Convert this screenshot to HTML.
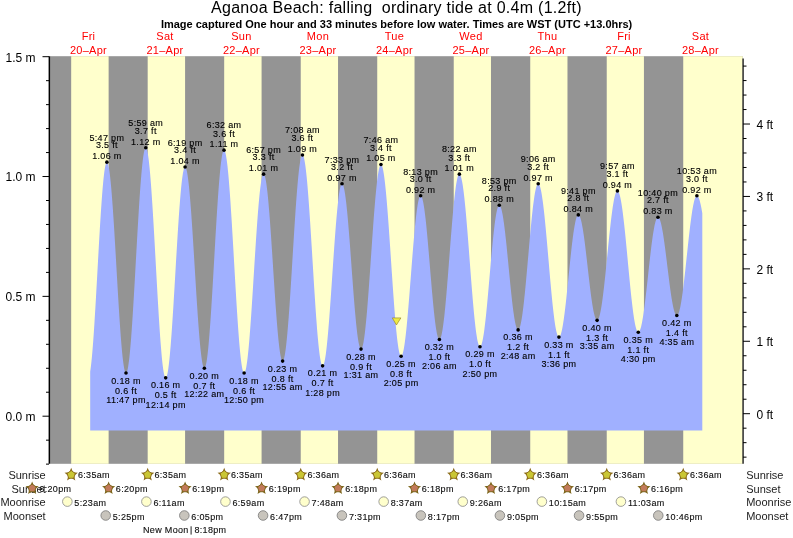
<!DOCTYPE html><html><head><meta charset="utf-8"><style>html,body{margin:0;padding:0;background:#fff;overflow:hidden;width:793px;height:538px;}svg{display:block;will-change:transform;}text{font-family:"Liberation Sans",sans-serif;}.b{stroke:#000;stroke-width:0.12px;}</style></head><body>
<svg width="793" height="538" viewBox="0 0 793 538">
<rect x="0" y="0" width="793" height="538" fill="#fff"/>
<rect x="50.2" y="56.2" width="692.5" height="407.6" fill="#949494"/>
<rect x="71.18" y="56.2" width="37.45" height="407.6" fill="#ffffcc"/>
<rect x="147.68" y="56.2" width="37.40" height="407.6" fill="#ffffcc"/>
<rect x="224.18" y="56.2" width="37.40" height="407.6" fill="#ffffcc"/>
<rect x="300.74" y="56.2" width="37.29" height="407.6" fill="#ffffcc"/>
<rect x="377.24" y="56.2" width="37.29" height="407.6" fill="#ffffcc"/>
<rect x="453.74" y="56.2" width="37.24" height="407.6" fill="#ffffcc"/>
<rect x="530.24" y="56.2" width="37.24" height="407.6" fill="#ffffcc"/>
<rect x="606.74" y="56.2" width="37.19" height="407.6" fill="#ffffcc"/>
<rect x="683.24" y="56.2" width="59.46" height="407.6" fill="#ffffcc"/>
<polygon points="90.20,430.5 90.20,371.44 90.64,368.49 91.07,365.01 91.51,361.02 91.95,356.54 92.39,351.60 92.82,346.22 93.26,340.43 93.70,334.26 94.13,327.75 94.57,320.93 95.01,313.84 95.45,306.51 95.88,298.98 96.32,291.30 96.76,283.51 97.20,275.64 97.63,267.75 98.07,259.86 98.51,252.03 98.94,244.30 99.38,236.70 99.82,229.28 100.26,222.08 100.69,215.14 101.13,208.49 101.57,202.18 102.00,196.22 102.44,190.66 102.88,185.53 103.32,180.85 103.75,176.65 104.19,172.94 104.63,169.76 105.07,167.12 105.50,165.03 105.94,163.50 106.38,162.54 106.81,162.16 107.25,162.34 107.69,163.07 108.13,164.33 108.56,166.13 109.00,168.46 109.44,171.29 109.87,174.62 110.31,178.43 110.75,182.70 111.19,187.40 111.62,192.52 112.06,198.03 112.50,203.90 112.94,210.09 113.37,216.58 113.81,223.34 114.25,230.32 114.68,237.49 115.12,244.82 115.56,252.27 116.00,259.80 116.43,267.36 116.87,274.93 117.31,282.46 117.74,289.91 118.18,297.25 118.62,304.44 119.06,311.43 119.49,318.20 119.93,324.71 120.37,330.93 120.80,336.81 121.24,342.34 121.68,347.49 122.12,352.22 122.55,356.52 122.99,360.36 123.43,363.72 123.87,366.59 124.30,368.94 124.74,370.77 125.18,372.08 125.61,372.84 126.05,373.06 126.49,372.73 126.93,371.87 127.36,370.46 127.80,368.52 128.24,366.07 128.67,363.10 129.11,359.63 129.55,355.69 129.99,351.29 130.42,346.44 130.86,341.19 131.30,335.54 131.74,329.53 132.17,323.18 132.61,316.54 133.05,309.62 133.48,302.46 133.92,295.10 134.36,287.58 134.80,279.92 135.23,272.17 135.67,264.36 136.11,256.53 136.54,248.72 136.98,240.97 137.42,233.31 137.86,225.78 138.29,218.42 138.73,211.27 139.17,204.35 139.61,197.70 140.04,191.35 140.48,185.34 140.92,179.69 141.35,174.43 141.79,169.58 142.23,165.17 142.67,161.23 143.10,157.76 143.54,154.78 143.98,152.32 144.41,150.38 144.85,148.97 145.29,148.10 145.73,147.77 146.16,147.99 146.60,148.75 147.04,150.05 147.48,151.89 147.91,154.26 148.35,157.14 148.79,160.53 149.22,164.40 149.66,168.74 150.10,173.52 150.54,178.73 150.97,184.34 151.41,190.32 151.85,196.65 152.28,203.29 152.72,210.21 153.16,217.39 153.60,224.78 154.03,232.35 154.47,240.06 154.91,247.88 155.34,255.78 155.78,263.71 156.22,271.63 156.66,279.51 157.09,287.31 157.53,295.00 157.97,302.53 158.41,309.87 158.84,316.99 159.28,323.86 159.72,330.43 160.15,336.68 160.59,342.58 161.03,348.10 161.47,353.22 161.90,357.90 162.34,362.14 162.78,365.90 163.21,369.17 163.65,371.94 164.09,374.19 164.53,375.91 164.96,377.09 165.40,377.73 165.84,377.82 166.28,377.39 166.71,376.42 167.15,374.93 167.59,372.93 168.02,370.43 168.46,367.43 168.90,363.95 169.34,360.02 169.77,355.65 170.21,350.86 170.65,345.67 171.08,340.12 171.52,334.23 171.96,328.03 172.40,321.55 172.83,314.82 173.27,307.88 173.71,300.77 174.15,293.51 174.58,286.14 175.02,278.71 175.46,271.24 175.89,263.78 176.33,256.36 176.77,249.03 177.21,241.81 177.64,234.74 178.08,227.86 178.52,221.21 178.95,214.81 179.39,208.70 179.83,202.92 180.27,197.48 180.70,192.41 181.14,187.75 181.58,183.51 182.01,179.72 182.45,176.39 182.89,173.54 183.33,171.19 183.76,169.35 184.20,168.02 184.64,167.22 185.08,166.94 185.51,167.19 185.95,167.94 186.39,169.20 186.82,170.96 187.26,173.21 187.70,175.94 188.14,179.13 188.57,182.77 189.01,186.84 189.45,191.32 189.88,196.19 190.32,201.42 190.76,206.98 191.20,212.85 191.63,219.01 192.07,225.40 192.51,232.01 192.95,238.80 193.38,245.74 193.82,252.79 194.26,259.91 194.69,267.07 195.13,274.24 195.57,281.37 196.01,288.43 196.44,295.39 196.88,302.20 197.32,308.84 197.75,315.27 198.19,321.46 198.63,327.38 199.07,332.99 199.50,338.27 199.94,343.19 200.38,347.73 200.82,351.86 201.25,355.57 201.69,358.83 202.13,361.63 202.56,363.95 203.00,365.78 203.44,367.11 203.88,367.94 204.31,368.26 204.75,368.06 205.19,367.33 205.62,366.08 206.06,364.30 206.50,362.01 206.94,359.21 207.37,355.93 207.81,352.18 208.25,347.97 208.69,343.33 209.12,338.28 209.56,332.84 210.00,327.05 210.43,320.92 210.87,314.49 211.31,307.79 211.75,300.86 212.18,293.72 212.62,286.41 213.06,278.97 213.49,271.43 213.93,263.84 214.37,256.22 214.81,248.62 215.24,241.06 215.68,233.60 216.12,226.26 216.55,219.08 216.99,212.10 217.43,205.35 217.87,198.86 218.30,192.67 218.74,186.80 219.18,181.28 219.62,176.15 220.05,171.42 220.49,167.11 220.93,163.26 221.36,159.88 221.80,156.98 222.24,154.58 222.68,152.69 223.11,151.32 223.55,150.48 223.99,150.17 224.42,150.38 224.86,151.12 225.30,152.37 225.74,154.14 226.17,156.40 226.61,159.16 227.05,162.40 227.49,166.10 227.92,170.25 228.36,174.82 228.80,179.81 229.23,185.17 229.67,190.89 230.11,196.94 230.55,203.30 230.98,209.93 231.42,216.80 231.86,223.87 232.29,231.13 232.73,238.53 233.17,246.03 233.61,253.61 234.04,261.23 234.48,268.84 234.92,276.43 235.36,283.94 235.79,291.35 236.23,298.63 236.67,305.72 237.10,312.61 237.54,319.27 237.98,325.65 238.42,331.74 238.85,337.49 239.29,342.89 239.73,347.91 240.16,352.53 240.60,356.72 241.04,360.47 241.48,363.76 241.91,366.57 242.35,368.88 242.79,370.70 243.22,372.00 243.66,372.79 244.10,373.06 244.54,372.82 244.97,372.09 245.41,370.87 245.85,369.17 246.29,366.99 246.72,364.35 247.16,361.26 247.60,357.73 248.03,353.79 248.47,349.45 248.91,344.73 249.35,339.67 249.78,334.27 250.22,328.57 250.66,322.60 251.09,316.38 251.53,309.96 251.97,303.35 252.41,296.60 252.84,289.73 253.28,282.78 253.72,275.78 254.16,268.78 254.59,261.80 255.03,254.88 255.47,248.05 255.90,241.34 256.34,234.80 256.78,228.45 257.22,222.32 257.65,216.45 258.09,210.86 258.53,205.58 258.96,200.64 259.40,196.07 259.84,191.87 260.28,188.08 260.71,184.72 261.15,181.80 261.59,179.33 262.03,177.33 262.46,175.81 262.90,174.77 263.34,174.22 263.77,174.17 264.21,174.60 264.65,175.52 265.09,176.92 265.52,178.79 265.96,181.13 266.40,183.91 266.83,187.14 267.27,190.78 267.71,194.82 268.15,199.24 268.58,204.02 269.02,209.13 269.46,214.54 269.90,220.23 270.33,226.17 270.77,232.33 271.21,238.66 271.64,245.15 272.08,251.76 272.52,258.45 272.96,265.18 273.39,271.93 273.83,278.66 274.27,285.33 274.70,291.90 275.14,298.35 275.58,304.64 276.02,310.74 276.45,316.61 276.89,322.22 277.33,327.55 277.76,332.57 278.20,337.25 278.64,341.57 279.08,345.50 279.51,349.03 279.95,352.13 280.39,354.79 280.83,356.99 281.26,358.73 281.70,359.99 282.14,360.78 282.57,361.07 283.01,360.88 283.45,360.19 283.89,359.01 284.32,357.35 284.76,355.21 285.20,352.60 285.63,349.54 286.07,346.04 286.51,342.12 286.95,337.79 287.38,333.08 287.82,328.01 288.26,322.60 288.70,316.88 289.13,310.88 289.57,304.63 290.01,298.15 290.44,291.48 290.88,284.64 291.32,277.68 291.76,270.63 292.19,263.52 292.63,256.38 293.07,249.24 293.50,242.15 293.94,235.14 294.38,228.23 294.82,221.47 295.25,214.88 295.69,208.50 296.13,202.36 296.57,196.49 297.00,190.91 297.44,185.66 297.88,180.75 298.31,176.21 298.75,172.06 299.19,168.33 299.63,165.03 300.06,162.18 300.50,159.78 300.94,157.86 301.37,156.42 301.81,155.47 302.25,155.01 302.69,155.04 303.12,155.56 303.56,156.57 304.00,158.05 304.43,160.01 304.87,162.44 305.31,165.32 305.75,168.64 306.18,172.38 306.62,176.53 307.06,181.07 307.50,185.98 307.93,191.23 308.37,196.80 308.81,202.66 309.24,208.80 309.68,215.17 310.12,221.75 310.56,228.51 310.99,235.41 311.43,242.44 311.87,249.54 312.30,256.70 312.74,263.87 313.18,271.03 313.62,278.14 314.05,285.17 314.49,292.08 314.93,298.84 315.37,305.43 315.80,311.81 316.24,317.95 316.68,323.83 317.11,329.41 317.55,334.67 317.99,339.59 318.43,344.14 318.86,348.31 319.30,352.07 319.74,355.40 320.17,358.30 320.61,360.74 321.05,362.71 321.49,364.22 321.92,365.24 322.36,365.78 322.80,365.83 323.24,365.42 323.67,364.56 324.11,363.25 324.55,361.49 324.98,359.30 325.42,356.68 325.86,353.65 326.30,350.23 326.73,346.43 327.17,342.27 327.61,337.77 328.04,332.96 328.48,327.85 328.92,322.48 329.36,316.87 329.79,311.05 330.23,305.04 330.67,298.89 331.11,292.61 331.54,286.24 331.98,279.82 332.42,273.37 332.85,266.93 333.29,260.53 333.73,254.20 334.17,247.97 334.60,241.88 335.04,235.95 335.48,230.22 335.91,224.71 336.35,219.45 336.79,214.47 337.23,209.79 337.66,205.44 338.10,201.44 338.54,197.80 338.97,194.55 339.41,191.70 339.85,189.27 340.29,187.27 340.72,185.71 341.16,184.59 341.60,183.93 342.04,183.72 342.47,183.96 342.91,184.62 343.35,185.71 343.78,187.22 344.22,189.15 344.66,191.48 345.10,194.19 345.53,197.29 345.97,200.74 346.41,204.54 346.84,208.66 347.28,213.08 347.72,217.78 348.16,222.73 348.59,227.91 349.03,233.30 349.47,238.85 349.91,244.55 350.34,250.36 350.78,256.25 351.22,262.20 351.65,268.17 352.09,274.13 352.53,280.05 352.97,285.90 353.40,291.65 353.84,297.26 354.28,302.72 354.71,307.98 355.15,313.03 355.59,317.84 356.03,322.38 356.46,326.62 356.90,330.55 357.34,334.15 357.78,337.40 358.21,340.27 358.65,342.76 359.09,344.85 359.52,346.53 359.96,347.80 360.40,348.64 360.84,349.05 361.27,349.03 361.71,348.57 362.15,347.68 362.58,346.35 363.02,344.60 363.46,342.43 363.90,339.85 364.33,336.88 364.77,333.53 365.21,329.82 365.64,325.76 366.08,321.37 366.52,316.67 366.96,311.69 367.39,306.45 367.83,300.98 368.27,295.29 368.71,289.42 369.14,283.39 369.58,277.24 370.02,271.00 370.45,264.68 370.89,258.33 371.33,251.97 371.77,245.63 372.20,239.35 372.64,233.15 373.08,227.06 373.51,221.11 373.95,215.34 374.39,209.76 374.83,204.40 375.26,199.29 375.70,194.46 376.14,189.92 376.58,185.70 377.01,181.82 377.45,178.30 377.89,175.15 378.32,172.38 378.76,170.02 379.20,168.07 379.64,166.54 380.07,165.44 380.51,164.77 380.95,164.55 381.38,164.76 381.82,165.42 382.26,166.52 382.70,168.06 383.13,170.03 383.57,172.41 384.01,175.21 384.45,178.40 384.88,181.98 385.32,185.92 385.76,190.21 386.19,194.82 386.63,199.74 387.07,204.94 387.51,210.40 387.94,216.09 388.38,221.99 388.82,228.06 389.25,234.29 389.69,240.64 390.13,247.08 390.57,253.58 391.00,260.12 391.44,266.65 391.88,273.16 392.32,279.60 392.75,285.96 393.19,292.20 393.63,298.29 394.06,304.21 394.50,309.92 394.94,315.40 395.38,320.63 395.81,325.57 396.25,330.21 396.69,334.53 397.12,338.50 397.56,342.11 398.00,345.34 398.44,348.18 398.87,350.60 399.31,352.61 399.75,354.19 400.18,355.33 400.62,356.03 401.06,356.28 401.50,356.11 401.93,355.55 402.37,354.59 402.81,353.24 403.25,351.52 403.68,349.42 404.12,346.96 404.56,344.14 404.99,341.00 405.43,337.53 405.87,333.76 406.31,329.70 406.74,325.38 407.18,320.81 407.62,316.02 408.05,311.04 408.49,305.88 408.93,300.58 409.37,295.15 409.80,289.63 410.24,284.04 410.68,278.41 411.12,272.77 411.55,267.15 411.99,261.57 412.43,256.06 412.86,250.65 413.30,245.36 413.74,240.23 414.18,235.27 414.61,230.51 415.05,225.98 415.49,221.69 415.92,217.68 416.36,213.95 416.80,210.52 417.24,207.42 417.67,204.66 418.11,202.25 418.55,200.20 418.99,198.53 419.42,197.24 419.86,196.34 420.30,195.83 420.73,195.71 421.17,195.99 421.61,196.65 422.05,197.69 422.48,199.10 422.92,200.88 423.36,203.02 423.79,205.51 424.23,208.33 424.67,211.46 425.11,214.90 425.54,218.62 425.98,222.60 426.42,226.83 426.85,231.27 427.29,235.91 427.73,240.72 428.17,245.67 428.60,250.74 429.04,255.90 429.48,261.12 429.92,266.38 430.35,271.64 430.79,276.89 431.23,282.08 431.66,287.19 432.10,292.20 432.54,297.08 432.98,301.80 433.41,306.34 433.85,310.67 434.29,314.77 434.72,318.61 435.16,322.18 435.60,325.46 436.04,328.43 436.47,331.07 436.91,333.38 437.35,335.32 437.79,336.91 438.22,338.13 438.66,338.96 439.10,339.42 439.53,339.49 439.97,339.16 440.41,338.45 440.85,337.36 441.28,335.88 441.72,334.03 442.16,331.82 442.59,329.25 443.03,326.33 443.47,323.09 443.91,319.54 444.34,315.69 444.78,311.56 445.22,307.17 445.66,302.55 446.09,297.71 446.53,292.67 446.97,287.47 447.40,282.12 447.84,276.65 448.28,271.09 448.72,265.46 449.15,259.79 449.59,254.10 450.03,248.43 450.46,242.80 450.90,237.23 451.34,231.76 451.78,226.41 452.21,221.19 452.65,216.15 453.09,211.30 453.53,206.67 453.96,202.27 454.40,198.13 454.84,194.26 455.27,190.70 455.71,187.44 456.15,184.51 456.59,181.93 457.02,179.70 457.46,177.83 457.90,176.34 458.33,175.22 458.77,174.50 459.21,174.16 459.65,174.21 460.08,174.64 460.52,175.46 460.96,176.65 461.39,178.21 461.83,180.14 462.27,182.43 462.71,185.06 463.14,188.02 463.58,191.31 464.02,194.91 464.46,198.79 464.89,202.95 465.33,207.36 465.77,212.01 466.20,216.87 466.64,221.93 467.08,227.16 467.52,232.53 467.95,238.03 468.39,243.63 468.83,249.30 469.26,255.02 469.70,260.77 470.14,266.51 470.58,272.23 471.01,277.90 471.45,283.48 471.89,288.97 472.33,294.33 472.76,299.53 473.20,304.57 473.64,309.41 474.07,314.03 474.51,318.41 474.95,322.53 475.39,326.38 475.82,329.94 476.26,333.19 476.70,336.11 477.13,338.70 477.57,340.94 478.01,342.83 478.45,344.35 478.88,345.49 479.32,346.26 479.76,346.65 480.20,346.65 480.63,346.30 481.07,345.59 481.51,344.52 481.94,343.11 482.38,341.36 482.82,339.28 483.26,336.87 483.69,334.16 484.13,331.15 484.57,327.86 485.00,324.31 485.44,320.52 485.88,316.50 486.32,312.27 486.75,307.86 487.19,303.29 487.63,298.58 488.06,293.75 488.50,288.84 488.94,283.86 489.38,278.83 489.81,273.80 490.25,268.78 490.69,263.79 491.13,258.86 491.56,254.03 492.00,249.30 492.44,244.71 492.87,240.27 493.31,236.02 493.75,231.97 494.19,228.15 494.62,224.56 495.06,221.24 495.50,218.20 495.93,215.45 496.37,213.00 496.81,210.88 497.25,209.08 497.68,207.63 498.12,206.52 498.56,205.76 499.00,205.36 499.43,205.31 499.87,205.61 500.31,206.23 500.74,207.17 501.18,208.44 501.62,210.02 502.06,211.90 502.49,214.08 502.93,216.55 503.37,219.28 503.80,222.27 504.24,225.50 504.68,228.96 505.12,232.62 505.55,236.46 505.99,240.47 506.43,244.62 506.87,248.90 507.30,253.28 507.74,257.73 508.18,262.23 508.61,266.76 509.05,271.30 509.49,275.81 509.93,280.29 510.36,284.69 510.80,289.01 511.24,293.21 511.67,297.28 512.11,301.18 512.55,304.92 512.99,308.45 513.42,311.76 513.86,314.85 514.30,317.68 514.74,320.24 515.17,322.53 515.61,324.53 516.05,326.22 516.48,327.60 516.92,328.67 517.36,329.41 517.80,329.82 518.23,329.91 518.67,329.65 519.11,329.06 519.54,328.12 519.98,326.86 520.42,325.26 520.86,323.35 521.29,321.12 521.73,318.60 522.17,315.78 522.60,312.69 523.04,309.34 523.48,305.74 523.92,301.91 524.35,297.87 524.79,293.64 525.23,289.24 525.67,284.69 526.10,280.00 526.54,275.21 526.98,270.33 527.41,265.39 527.85,260.41 528.29,255.41 528.73,250.42 529.16,245.46 529.60,240.55 530.04,235.72 530.47,230.98 530.91,226.37 531.35,221.90 531.79,217.59 532.22,213.47 532.66,209.55 533.10,205.85 533.54,202.38 533.97,199.18 534.41,196.24 534.85,193.58 535.28,191.23 535.72,189.17 536.16,187.44 536.60,186.03 537.03,184.95 537.47,184.20 537.91,183.80 538.34,183.74 538.78,184.01 539.22,184.62 539.66,185.57 540.09,186.84 540.53,188.43 540.97,190.35 541.41,192.57 541.84,195.08 542.28,197.89 542.72,200.97 543.15,204.31 543.59,207.90 544.03,211.72 544.47,215.75 544.90,219.98 545.34,224.38 545.78,228.95 546.21,233.65 546.65,238.47 547.09,243.38 547.53,248.38 547.96,253.42 548.40,258.50 548.84,263.58 549.27,268.65 549.71,273.68 550.15,278.66 550.59,283.55 551.02,288.34 551.46,293.01 551.90,297.54 552.34,301.91 552.77,306.09 553.21,310.07 553.65,313.83 554.08,317.36 554.52,320.64 554.96,323.65 555.40,326.39 555.83,328.83 556.27,330.98 556.71,332.81 557.14,334.33 557.58,335.52 558.02,336.39 558.46,336.92 558.89,337.11 559.33,336.98 559.77,336.54 560.21,335.80 560.64,334.76 561.08,333.42 561.52,331.80 561.95,329.90 562.39,327.72 562.83,325.29 563.27,322.61 563.70,319.69 564.14,316.56 564.58,313.22 565.01,309.70 565.45,306.01 565.89,302.16 566.33,298.19 566.76,294.10 567.20,289.93 567.64,285.68 568.08,281.38 568.51,277.06 568.95,272.73 569.39,268.42 569.82,264.15 570.26,259.94 570.70,255.80 571.14,251.77 571.57,247.86 572.01,244.09 572.45,240.48 572.88,237.05 573.32,233.81 573.76,230.79 574.20,227.99 574.63,225.43 575.07,223.13 575.51,221.09 575.95,219.33 576.38,217.85 576.82,216.66 577.26,215.77 577.69,215.19 578.13,214.90 578.57,214.92 579.01,215.23 579.44,215.81 579.88,216.67 580.32,217.80 580.75,219.19 581.19,220.85 581.63,222.75 582.07,224.89 582.50,227.26 582.94,229.85 583.38,232.63 583.81,235.61 584.25,238.75 584.69,242.05 585.13,245.48 585.56,249.03 586.00,252.68 586.44,256.41 586.88,260.20 587.31,264.03 587.75,267.88 588.19,271.73 588.62,275.55 589.06,279.33 589.50,283.05 589.94,286.69 590.37,290.23 590.81,293.64 591.25,296.92 591.68,300.04 592.12,302.99 592.56,305.74 593.00,308.30 593.43,310.64 593.87,312.75 594.31,314.61 594.75,316.23 595.18,317.59 595.62,318.68 596.06,319.50 596.49,320.04 596.93,320.31 597.37,320.28 597.81,319.97 598.24,319.36 598.68,318.46 599.12,317.27 599.55,315.80 599.99,314.05 600.43,312.03 600.87,309.76 601.30,307.24 601.74,304.48 602.18,301.50 602.62,298.31 603.05,294.92 603.49,291.36 603.93,287.63 604.36,283.75 604.80,279.74 605.24,275.63 605.68,271.42 606.11,267.14 606.55,262.81 606.99,258.44 607.42,254.06 607.86,249.69 608.30,245.34 608.74,241.05 609.17,236.82 609.61,232.67 610.05,228.63 610.49,224.72 610.92,220.94 611.36,217.33 611.80,213.89 612.23,210.64 612.67,207.59 613.11,204.77 613.55,202.18 613.98,199.84 614.42,197.74 614.86,195.92 615.29,194.37 615.73,193.10 616.17,192.11 616.61,191.42 617.04,191.02 617.48,190.91 617.92,191.11 618.35,191.62 618.79,192.42 619.23,193.53 619.67,194.93 620.10,196.62 620.54,198.59 620.98,200.83 621.42,203.33 621.85,206.09 622.29,209.09 622.73,212.31 623.16,215.75 623.60,219.39 624.04,223.21 624.48,227.19 624.91,231.33 625.35,235.60 625.79,239.97 626.22,244.45 626.66,248.99 627.10,253.59 627.54,258.23 627.97,262.88 628.41,267.52 628.85,272.14 629.29,276.71 629.72,281.22 630.16,285.65 630.60,289.97 631.03,294.16 631.47,298.22 631.91,302.12 632.35,305.84 632.78,309.37 633.22,312.69 633.66,315.80 634.09,318.66 634.53,321.29 634.97,323.65 635.41,325.75 635.84,327.56 636.28,329.10 636.72,330.34 637.16,331.28 637.59,331.92 638.03,332.26 638.47,332.29 638.90,332.04 639.34,331.51 639.78,330.70 640.22,329.62 640.65,328.28 641.09,326.67 641.53,324.80 641.96,322.70 642.40,320.36 642.84,317.79 643.28,315.02 643.71,312.05 644.15,308.90 644.59,305.59 645.02,302.12 645.46,298.52 645.90,294.80 646.34,290.99 646.77,287.09 647.21,283.14 647.65,279.15 648.09,275.13 648.52,271.11 648.96,267.11 649.40,263.15 649.83,259.25 650.27,255.42 650.71,251.68 651.15,248.06 651.58,244.57 652.02,241.23 652.46,238.05 652.89,235.05 653.33,232.24 653.77,229.64 654.21,227.27 654.64,225.12 655.08,223.22 655.52,221.56 655.96,220.17 656.39,219.05 656.83,218.19 657.27,217.62 657.70,217.32 658.14,217.30 658.58,217.54 659.02,218.05 659.45,218.81 659.89,219.82 660.33,221.08 660.76,222.58 661.20,224.31 661.64,226.26 662.08,228.43 662.51,230.80 662.95,233.36 663.39,236.09 663.83,238.98 664.26,242.02 664.70,245.19 665.14,248.47 665.57,251.85 666.01,255.30 666.45,258.81 666.89,262.37 667.32,265.94 667.76,269.52 668.20,273.08 668.63,276.60 669.07,280.07 669.51,283.47 669.95,286.78 670.38,289.98 670.82,293.05 671.26,295.98 671.69,298.76 672.13,301.37 672.57,303.78 673.01,306.01 673.44,308.02 673.88,309.81 674.32,311.37 674.76,312.69 675.19,313.77 675.63,314.59 676.07,315.16 676.50,315.48 676.94,315.53 677.38,315.30 677.82,314.80 678.25,314.02 678.69,312.96 679.13,311.64 679.56,310.06 680.00,308.22 680.44,306.13 680.88,303.81 681.31,301.27 681.75,298.51 682.19,295.55 682.63,292.40 683.06,289.08 683.50,285.61 683.94,281.99 684.37,278.25 684.81,274.41 685.25,270.48 685.69,266.47 686.12,262.42 686.56,258.34 687.00,254.24 687.43,250.15 687.87,246.08 688.31,242.06 688.75,238.10 689.18,234.23 689.62,230.45 690.06,226.80 690.50,223.27 690.93,219.90 691.37,216.70 691.81,213.68 692.24,210.85 692.68,208.23 693.12,205.84 693.56,203.68 693.99,201.76 694.43,200.09 694.87,198.68 695.30,197.54 695.74,196.67 696.18,196.07 696.62,195.76 697.05,195.72 697.49,195.93 697.93,196.38 698.37,197.07 698.80,198.00 699.24,199.16 699.68,200.54 700.11,202.15 700.55,203.97 700.99,206.00 701.43,208.23 701.86,210.66 702.30,213.26 702.30,430.5" fill="#a0b0ff"/>
<line x1="49.4" y1="56.2" x2="49.4" y2="463.8" stroke="#000" stroke-width="1.6"/>
<line x1="743.1" y1="58.5" x2="743.1" y2="463.8" stroke="#222" stroke-width="1.4"/>
<line x1="46" y1="464.13" x2="49" y2="464.13" stroke="#000" stroke-width="1"/>
<line x1="46" y1="440.17" x2="49" y2="440.17" stroke="#000" stroke-width="1"/>
<line x1="42.5" y1="416.20" x2="49" y2="416.20" stroke="#000" stroke-width="1"/>
<line x1="46" y1="392.23" x2="49" y2="392.23" stroke="#000" stroke-width="1"/>
<line x1="46" y1="368.27" x2="49" y2="368.27" stroke="#000" stroke-width="1"/>
<line x1="46" y1="344.30" x2="49" y2="344.30" stroke="#000" stroke-width="1"/>
<line x1="46" y1="320.33" x2="49" y2="320.33" stroke="#000" stroke-width="1"/>
<line x1="42.5" y1="296.37" x2="49" y2="296.37" stroke="#000" stroke-width="1"/>
<line x1="46" y1="272.40" x2="49" y2="272.40" stroke="#000" stroke-width="1"/>
<line x1="46" y1="248.43" x2="49" y2="248.43" stroke="#000" stroke-width="1"/>
<line x1="46" y1="224.46" x2="49" y2="224.46" stroke="#000" stroke-width="1"/>
<line x1="46" y1="200.50" x2="49" y2="200.50" stroke="#000" stroke-width="1"/>
<line x1="42.5" y1="176.53" x2="49" y2="176.53" stroke="#000" stroke-width="1"/>
<line x1="46" y1="152.56" x2="49" y2="152.56" stroke="#000" stroke-width="1"/>
<line x1="46" y1="128.60" x2="49" y2="128.60" stroke="#000" stroke-width="1"/>
<line x1="46" y1="104.63" x2="49" y2="104.63" stroke="#000" stroke-width="1"/>
<line x1="46" y1="80.66" x2="49" y2="80.66" stroke="#000" stroke-width="1"/>
<line x1="42.5" y1="56.69" x2="49" y2="56.69" stroke="#000" stroke-width="1"/>
<text x="35.5" y="61.59" font-size="12" text-anchor="end" fill="#000">1.5 m</text>
<text x="35.5" y="181.03" font-size="12" text-anchor="end" fill="#000">1.0 m</text>
<text x="35.5" y="300.87" font-size="12" text-anchor="end" fill="#000">0.5 m</text>
<text x="35.5" y="420.70" font-size="12" text-anchor="end" fill="#000">0.0 m</text>
<line x1="743" y1="457.15" x2="746.5" y2="457.15" stroke="#000" stroke-width="1"/>
<line x1="743" y1="442.67" x2="746.5" y2="442.67" stroke="#000" stroke-width="1"/>
<line x1="743" y1="428.18" x2="746.5" y2="428.18" stroke="#000" stroke-width="1"/>
<line x1="743" y1="413.70" x2="750" y2="413.70" stroke="#000" stroke-width="1"/>
<line x1="743" y1="399.22" x2="746.5" y2="399.22" stroke="#000" stroke-width="1"/>
<line x1="743" y1="384.73" x2="746.5" y2="384.73" stroke="#000" stroke-width="1"/>
<line x1="743" y1="370.25" x2="746.5" y2="370.25" stroke="#000" stroke-width="1"/>
<line x1="743" y1="355.76" x2="746.5" y2="355.76" stroke="#000" stroke-width="1"/>
<line x1="743" y1="341.28" x2="750" y2="341.28" stroke="#000" stroke-width="1"/>
<line x1="743" y1="326.80" x2="746.5" y2="326.80" stroke="#000" stroke-width="1"/>
<line x1="743" y1="312.31" x2="746.5" y2="312.31" stroke="#000" stroke-width="1"/>
<line x1="743" y1="297.83" x2="746.5" y2="297.83" stroke="#000" stroke-width="1"/>
<line x1="743" y1="283.34" x2="746.5" y2="283.34" stroke="#000" stroke-width="1"/>
<line x1="743" y1="268.86" x2="750" y2="268.86" stroke="#000" stroke-width="1"/>
<line x1="743" y1="254.38" x2="746.5" y2="254.38" stroke="#000" stroke-width="1"/>
<line x1="743" y1="239.89" x2="746.5" y2="239.89" stroke="#000" stroke-width="1"/>
<line x1="743" y1="225.41" x2="746.5" y2="225.41" stroke="#000" stroke-width="1"/>
<line x1="743" y1="210.92" x2="746.5" y2="210.92" stroke="#000" stroke-width="1"/>
<line x1="743" y1="196.44" x2="750" y2="196.44" stroke="#000" stroke-width="1"/>
<line x1="743" y1="181.96" x2="746.5" y2="181.96" stroke="#000" stroke-width="1"/>
<line x1="743" y1="167.47" x2="746.5" y2="167.47" stroke="#000" stroke-width="1"/>
<line x1="743" y1="152.99" x2="746.5" y2="152.99" stroke="#000" stroke-width="1"/>
<line x1="743" y1="138.50" x2="746.5" y2="138.50" stroke="#000" stroke-width="1"/>
<line x1="743" y1="124.02" x2="750" y2="124.02" stroke="#000" stroke-width="1"/>
<line x1="743" y1="109.54" x2="746.5" y2="109.54" stroke="#000" stroke-width="1"/>
<line x1="743" y1="95.05" x2="746.5" y2="95.05" stroke="#000" stroke-width="1"/>
<line x1="743" y1="80.57" x2="746.5" y2="80.57" stroke="#000" stroke-width="1"/>
<line x1="743" y1="66.08" x2="746.5" y2="66.08" stroke="#000" stroke-width="1"/>
<text x="756.5" y="418.70" font-size="12" fill="#000">0 ft</text>
<text x="756.5" y="346.28" font-size="12" fill="#000">1 ft</text>
<text x="756.5" y="273.86" font-size="12" fill="#000">2 ft</text>
<text x="756.5" y="201.44" font-size="12" fill="#000">3 ft</text>
<text x="756.5" y="129.02" font-size="12" fill="#000">4 ft</text>
<text x="396.4" y="12.9" font-size="16" letter-spacing="0.27" text-anchor="middle" fill="#000">Aganoa Beach: falling&#160; ordinary tide at 0.4m (1.2ft)</text>
<text x="396.6" y="28.0" font-size="11" font-weight="bold" text-anchor="middle" fill="#000">Image captured One hour and 33 minutes before low water. Times are WST (UTC +13.0hrs)</text>
<text x="88.45" y="39.5" font-size="11" letter-spacing="0.25" text-anchor="middle" fill="#f00">Fri</text>
<text x="88.45" y="53.5" font-size="11" letter-spacing="0.25" text-anchor="middle" fill="#f00">20&#8211;Apr</text>
<text x="164.95" y="39.5" font-size="11" letter-spacing="0.25" text-anchor="middle" fill="#f00">Sat</text>
<text x="164.95" y="53.5" font-size="11" letter-spacing="0.25" text-anchor="middle" fill="#f00">21&#8211;Apr</text>
<text x="241.45" y="39.5" font-size="11" letter-spacing="0.25" text-anchor="middle" fill="#f00">Sun</text>
<text x="241.45" y="53.5" font-size="11" letter-spacing="0.25" text-anchor="middle" fill="#f00">22&#8211;Apr</text>
<text x="317.95" y="39.5" font-size="11" letter-spacing="0.25" text-anchor="middle" fill="#f00">Mon</text>
<text x="317.95" y="53.5" font-size="11" letter-spacing="0.25" text-anchor="middle" fill="#f00">23&#8211;Apr</text>
<text x="394.45" y="39.5" font-size="11" letter-spacing="0.25" text-anchor="middle" fill="#f00">Tue</text>
<text x="394.45" y="53.5" font-size="11" letter-spacing="0.25" text-anchor="middle" fill="#f00">24&#8211;Apr</text>
<text x="470.95" y="39.5" font-size="11" letter-spacing="0.25" text-anchor="middle" fill="#f00">Wed</text>
<text x="470.95" y="53.5" font-size="11" letter-spacing="0.25" text-anchor="middle" fill="#f00">25&#8211;Apr</text>
<text x="547.45" y="39.5" font-size="11" letter-spacing="0.25" text-anchor="middle" fill="#f00">Thu</text>
<text x="547.45" y="53.5" font-size="11" letter-spacing="0.25" text-anchor="middle" fill="#f00">26&#8211;Apr</text>
<text x="623.95" y="39.5" font-size="11" letter-spacing="0.25" text-anchor="middle" fill="#f00">Fri</text>
<text x="623.95" y="53.5" font-size="11" letter-spacing="0.25" text-anchor="middle" fill="#f00">27&#8211;Apr</text>
<text x="700.45" y="39.5" font-size="11" letter-spacing="0.25" text-anchor="middle" fill="#f00">Sat</text>
<text x="700.45" y="53.5" font-size="11" letter-spacing="0.25" text-anchor="middle" fill="#f00">28&#8211;Apr</text>
<circle cx="106.88" cy="162.15" r="1.8" fill="#000"/>
<text x="106.88" y="141.15" font-size="9" letter-spacing="0.33" text-anchor="middle" fill="#000" class="b">5:47 pm</text>
<text x="106.88" y="148.15" font-size="9" letter-spacing="0.33" text-anchor="middle" fill="#000" class="b">3.5 ft</text>
<text x="106.88" y="158.95" font-size="9" letter-spacing="0.33" text-anchor="middle" fill="#000" class="b">1.06 m</text>
<circle cx="126.01" cy="373.06" r="1.8" fill="#000"/>
<text x="126.01" y="383.56" font-size="9" letter-spacing="0.33" text-anchor="middle" fill="#000" class="b">0.18 m</text>
<text x="126.01" y="393.56" font-size="9" letter-spacing="0.33" text-anchor="middle" fill="#000" class="b">0.6 ft</text>
<text x="126.01" y="402.96" font-size="9" letter-spacing="0.33" text-anchor="middle" fill="#000" class="b">11:47 pm</text>
<circle cx="145.77" cy="147.77" r="1.8" fill="#000"/>
<text x="145.77" y="125.77" font-size="9" letter-spacing="0.33" text-anchor="middle" fill="#000" class="b">5:59 am</text>
<text x="145.77" y="134.27" font-size="9" letter-spacing="0.33" text-anchor="middle" fill="#000" class="b">3.7 ft</text>
<text x="145.77" y="144.57" font-size="9" letter-spacing="0.33" text-anchor="middle" fill="#000" class="b">1.12 m</text>
<circle cx="165.69" cy="377.85" r="1.8" fill="#000"/>
<text x="165.69" y="388.35" font-size="9" letter-spacing="0.33" text-anchor="middle" fill="#000" class="b">0.16 m</text>
<text x="165.69" y="398.35" font-size="9" letter-spacing="0.33" text-anchor="middle" fill="#000" class="b">0.5 ft</text>
<text x="165.69" y="407.75" font-size="9" letter-spacing="0.33" text-anchor="middle" fill="#000" class="b">12:14 pm</text>
<circle cx="185.08" cy="166.94" r="1.8" fill="#000"/>
<text x="185.08" y="145.94" font-size="9" letter-spacing="0.33" text-anchor="middle" fill="#000" class="b">6:19 pm</text>
<text x="185.08" y="152.94" font-size="9" letter-spacing="0.33" text-anchor="middle" fill="#000" class="b">3.4 ft</text>
<text x="185.08" y="163.74" font-size="9" letter-spacing="0.33" text-anchor="middle" fill="#000" class="b">1.04 m</text>
<circle cx="204.37" cy="368.27" r="1.8" fill="#000"/>
<text x="204.37" y="378.77" font-size="9" letter-spacing="0.33" text-anchor="middle" fill="#000" class="b">0.20 m</text>
<text x="204.37" y="388.77" font-size="9" letter-spacing="0.33" text-anchor="middle" fill="#000" class="b">0.7 ft</text>
<text x="204.37" y="397.37" font-size="9" letter-spacing="0.33" text-anchor="middle" fill="#000" class="b">12:22 am</text>
<circle cx="224.02" cy="150.17" r="1.8" fill="#000"/>
<text x="224.02" y="128.17" font-size="9" letter-spacing="0.33" text-anchor="middle" fill="#000" class="b">6:32 am</text>
<text x="224.02" y="136.67" font-size="9" letter-spacing="0.33" text-anchor="middle" fill="#000" class="b">3.6 ft</text>
<text x="224.02" y="146.97" font-size="9" letter-spacing="0.33" text-anchor="middle" fill="#000" class="b">1.11 m</text>
<circle cx="244.11" cy="373.06" r="1.8" fill="#000"/>
<text x="244.11" y="383.56" font-size="9" letter-spacing="0.33" text-anchor="middle" fill="#000" class="b">0.18 m</text>
<text x="244.11" y="393.56" font-size="9" letter-spacing="0.33" text-anchor="middle" fill="#000" class="b">0.6 ft</text>
<text x="244.11" y="402.96" font-size="9" letter-spacing="0.33" text-anchor="middle" fill="#000" class="b">12:50 pm</text>
<circle cx="263.60" cy="174.13" r="1.8" fill="#000"/>
<text x="263.60" y="153.13" font-size="9" letter-spacing="0.33" text-anchor="middle" fill="#000" class="b">6:57 pm</text>
<text x="263.60" y="160.13" font-size="9" letter-spacing="0.33" text-anchor="middle" fill="#000" class="b">3.3 ft</text>
<text x="263.60" y="170.93" font-size="9" letter-spacing="0.33" text-anchor="middle" fill="#000" class="b">1.01 m</text>
<circle cx="282.62" cy="361.08" r="1.8" fill="#000"/>
<text x="282.62" y="371.58" font-size="9" letter-spacing="0.33" text-anchor="middle" fill="#000" class="b">0.23 m</text>
<text x="282.62" y="381.58" font-size="9" letter-spacing="0.33" text-anchor="middle" fill="#000" class="b">0.8 ft</text>
<text x="282.62" y="390.18" font-size="9" letter-spacing="0.33" text-anchor="middle" fill="#000" class="b">12:55 am</text>
<circle cx="302.44" cy="154.96" r="1.8" fill="#000"/>
<text x="302.44" y="132.96" font-size="9" letter-spacing="0.33" text-anchor="middle" fill="#000" class="b">7:08 am</text>
<text x="302.44" y="141.46" font-size="9" letter-spacing="0.33" text-anchor="middle" fill="#000" class="b">3.6 ft</text>
<text x="302.44" y="151.76" font-size="9" letter-spacing="0.33" text-anchor="middle" fill="#000" class="b">1.09 m</text>
<circle cx="322.62" cy="365.87" r="1.8" fill="#000"/>
<text x="322.62" y="376.37" font-size="9" letter-spacing="0.33" text-anchor="middle" fill="#000" class="b">0.21 m</text>
<text x="322.62" y="386.37" font-size="9" letter-spacing="0.33" text-anchor="middle" fill="#000" class="b">0.7 ft</text>
<text x="322.62" y="395.77" font-size="9" letter-spacing="0.33" text-anchor="middle" fill="#000" class="b">1:28 pm</text>
<circle cx="342.02" cy="183.72" r="1.8" fill="#000"/>
<text x="342.02" y="162.72" font-size="9" letter-spacing="0.33" text-anchor="middle" fill="#000" class="b">7:33 pm</text>
<text x="342.02" y="169.72" font-size="9" letter-spacing="0.33" text-anchor="middle" fill="#000" class="b">3.2 ft</text>
<text x="342.02" y="180.52" font-size="9" letter-spacing="0.33" text-anchor="middle" fill="#000" class="b">0.97 m</text>
<circle cx="361.03" cy="349.09" r="1.8" fill="#000"/>
<text x="361.03" y="359.59" font-size="9" letter-spacing="0.33" text-anchor="middle" fill="#000" class="b">0.28 m</text>
<text x="361.03" y="369.59" font-size="9" letter-spacing="0.33" text-anchor="middle" fill="#000" class="b">0.9 ft</text>
<text x="361.03" y="378.19" font-size="9" letter-spacing="0.33" text-anchor="middle" fill="#000" class="b">1:31 am</text>
<circle cx="380.96" cy="164.55" r="1.8" fill="#000"/>
<text x="380.96" y="142.55" font-size="9" letter-spacing="0.33" text-anchor="middle" fill="#000" class="b">7:46 am</text>
<text x="380.96" y="151.05" font-size="9" letter-spacing="0.33" text-anchor="middle" fill="#000" class="b">3.4 ft</text>
<text x="380.96" y="161.35" font-size="9" letter-spacing="0.33" text-anchor="middle" fill="#000" class="b">1.05 m</text>
<circle cx="401.09" cy="356.28" r="1.8" fill="#000"/>
<text x="401.09" y="366.78" font-size="9" letter-spacing="0.33" text-anchor="middle" fill="#000" class="b">0.25 m</text>
<text x="401.09" y="376.78" font-size="9" letter-spacing="0.33" text-anchor="middle" fill="#000" class="b">0.8 ft</text>
<text x="401.09" y="386.18" font-size="9" letter-spacing="0.33" text-anchor="middle" fill="#000" class="b">2:05 pm</text>
<circle cx="420.64" cy="195.70" r="1.8" fill="#000"/>
<text x="420.64" y="174.70" font-size="9" letter-spacing="0.33" text-anchor="middle" fill="#000" class="b">8:13 pm</text>
<text x="420.64" y="181.70" font-size="9" letter-spacing="0.33" text-anchor="middle" fill="#000" class="b">3.0 ft</text>
<text x="420.64" y="192.50" font-size="9" letter-spacing="0.33" text-anchor="middle" fill="#000" class="b">0.92 m</text>
<circle cx="439.39" cy="339.51" r="1.8" fill="#000"/>
<text x="439.39" y="350.01" font-size="9" letter-spacing="0.33" text-anchor="middle" fill="#000" class="b">0.32 m</text>
<text x="439.39" y="360.01" font-size="9" letter-spacing="0.33" text-anchor="middle" fill="#000" class="b">1.0 ft</text>
<text x="439.39" y="368.61" font-size="9" letter-spacing="0.33" text-anchor="middle" fill="#000" class="b">2:06 am</text>
<circle cx="459.37" cy="174.13" r="1.8" fill="#000"/>
<text x="459.37" y="152.13" font-size="9" letter-spacing="0.33" text-anchor="middle" fill="#000" class="b">8:22 am</text>
<text x="459.37" y="160.63" font-size="9" letter-spacing="0.33" text-anchor="middle" fill="#000" class="b">3.3 ft</text>
<text x="459.37" y="170.93" font-size="9" letter-spacing="0.33" text-anchor="middle" fill="#000" class="b">1.01 m</text>
<circle cx="479.98" cy="346.70" r="1.8" fill="#000"/>
<text x="479.98" y="357.20" font-size="9" letter-spacing="0.33" text-anchor="middle" fill="#000" class="b">0.29 m</text>
<text x="479.98" y="367.20" font-size="9" letter-spacing="0.33" text-anchor="middle" fill="#000" class="b">1.0 ft</text>
<text x="479.98" y="376.60" font-size="9" letter-spacing="0.33" text-anchor="middle" fill="#000" class="b">2:50 pm</text>
<circle cx="499.27" cy="205.29" r="1.8" fill="#000"/>
<text x="499.27" y="184.29" font-size="9" letter-spacing="0.33" text-anchor="middle" fill="#000" class="b">8:53 pm</text>
<text x="499.27" y="191.29" font-size="9" letter-spacing="0.33" text-anchor="middle" fill="#000" class="b">2.9 ft</text>
<text x="499.27" y="202.09" font-size="9" letter-spacing="0.33" text-anchor="middle" fill="#000" class="b">0.88 m</text>
<circle cx="518.12" cy="329.92" r="1.8" fill="#000"/>
<text x="518.12" y="340.42" font-size="9" letter-spacing="0.33" text-anchor="middle" fill="#000" class="b">0.36 m</text>
<text x="518.12" y="350.42" font-size="9" letter-spacing="0.33" text-anchor="middle" fill="#000" class="b">1.2 ft</text>
<text x="518.12" y="359.02" font-size="9" letter-spacing="0.33" text-anchor="middle" fill="#000" class="b">2:48 am</text>
<circle cx="538.21" cy="183.72" r="1.8" fill="#000"/>
<text x="538.21" y="161.72" font-size="9" letter-spacing="0.33" text-anchor="middle" fill="#000" class="b">9:06 am</text>
<text x="538.21" y="170.22" font-size="9" letter-spacing="0.33" text-anchor="middle" fill="#000" class="b">3.2 ft</text>
<text x="538.21" y="180.52" font-size="9" letter-spacing="0.33" text-anchor="middle" fill="#000" class="b">0.97 m</text>
<circle cx="558.92" cy="337.11" r="1.8" fill="#000"/>
<text x="558.92" y="347.61" font-size="9" letter-spacing="0.33" text-anchor="middle" fill="#000" class="b">0.33 m</text>
<text x="558.92" y="357.61" font-size="9" letter-spacing="0.33" text-anchor="middle" fill="#000" class="b">1.1 ft</text>
<text x="558.92" y="367.01" font-size="9" letter-spacing="0.33" text-anchor="middle" fill="#000" class="b">3:36 pm</text>
<circle cx="578.32" cy="214.88" r="1.8" fill="#000"/>
<text x="578.32" y="193.88" font-size="9" letter-spacing="0.33" text-anchor="middle" fill="#000" class="b">9:41 pm</text>
<text x="578.32" y="200.88" font-size="9" letter-spacing="0.33" text-anchor="middle" fill="#000" class="b">2.8 ft</text>
<text x="578.32" y="211.68" font-size="9" letter-spacing="0.33" text-anchor="middle" fill="#000" class="b">0.84 m</text>
<circle cx="597.12" cy="320.33" r="1.8" fill="#000"/>
<text x="597.12" y="330.83" font-size="9" letter-spacing="0.33" text-anchor="middle" fill="#000" class="b">0.40 m</text>
<text x="597.12" y="340.83" font-size="9" letter-spacing="0.33" text-anchor="middle" fill="#000" class="b">1.3 ft</text>
<text x="597.12" y="349.43" font-size="9" letter-spacing="0.33" text-anchor="middle" fill="#000" class="b">3:35 am</text>
<circle cx="617.42" cy="190.91" r="1.8" fill="#000"/>
<text x="617.42" y="168.91" font-size="9" letter-spacing="0.33" text-anchor="middle" fill="#000" class="b">9:57 am</text>
<text x="617.42" y="177.41" font-size="9" letter-spacing="0.33" text-anchor="middle" fill="#000" class="b">3.1 ft</text>
<text x="617.42" y="187.71" font-size="9" letter-spacing="0.33" text-anchor="middle" fill="#000" class="b">0.94 m</text>
<circle cx="638.29" cy="332.32" r="1.8" fill="#000"/>
<text x="638.29" y="342.82" font-size="9" letter-spacing="0.33" text-anchor="middle" fill="#000" class="b">0.35 m</text>
<text x="638.29" y="352.82" font-size="9" letter-spacing="0.33" text-anchor="middle" fill="#000" class="b">1.1 ft</text>
<text x="638.29" y="362.22" font-size="9" letter-spacing="0.33" text-anchor="middle" fill="#000" class="b">4:30 pm</text>
<circle cx="657.95" cy="217.27" r="1.8" fill="#000"/>
<text x="657.95" y="196.27" font-size="9" letter-spacing="0.33" text-anchor="middle" fill="#000" class="b">10:40 pm</text>
<text x="657.95" y="203.27" font-size="9" letter-spacing="0.33" text-anchor="middle" fill="#000" class="b">2.7 ft</text>
<text x="657.95" y="214.07" font-size="9" letter-spacing="0.33" text-anchor="middle" fill="#000" class="b">0.83 m</text>
<circle cx="676.81" cy="315.54" r="1.8" fill="#000"/>
<text x="676.81" y="326.04" font-size="9" letter-spacing="0.33" text-anchor="middle" fill="#000" class="b">0.42 m</text>
<text x="676.81" y="336.04" font-size="9" letter-spacing="0.33" text-anchor="middle" fill="#000" class="b">1.4 ft</text>
<text x="676.81" y="344.64" font-size="9" letter-spacing="0.33" text-anchor="middle" fill="#000" class="b">4:35 am</text>
<circle cx="696.89" cy="195.70" r="1.8" fill="#000"/>
<text x="696.89" y="173.70" font-size="9" letter-spacing="0.33" text-anchor="middle" fill="#000" class="b">10:53 am</text>
<text x="696.89" y="182.20" font-size="9" letter-spacing="0.33" text-anchor="middle" fill="#000" class="b">3.0 ft</text>
<text x="696.89" y="192.50" font-size="9" letter-spacing="0.33" text-anchor="middle" fill="#000" class="b">0.92 m</text>
<polygon points="392.3,317.9 400.9,317.9 396.4,325.0" fill="#eeea44" stroke="#8e7c20" stroke-width="0.6"/>
<text x="45.7" y="478.8" font-size="11" text-anchor="end" fill="#222">Sunrise</text>
<text x="746.2" y="478.8" font-size="11" fill="#222">Sunrise</text>
<text x="45.7" y="492.6" font-size="11" text-anchor="end" fill="#222">Sunset</text>
<text x="746.2" y="492.6" font-size="11" fill="#222">Sunset</text>
<text x="45.7" y="506.1" font-size="11" text-anchor="end" fill="#222">Moonrise</text>
<text x="746.2" y="506.1" font-size="11" fill="#222">Moonrise</text>
<text x="45.7" y="520.0" font-size="11" text-anchor="end" fill="#222">Moonset</text>
<text x="746.2" y="520.0" font-size="11" fill="#222">Moonset</text>
<polygon points="71.18,467.80 72.95,472.37 77.84,472.64 74.04,475.73 75.30,480.46 71.18,477.80 67.07,480.46 68.33,475.73 64.53,472.64 69.42,472.37" fill="#8a6a18"/><polygon points="71.18,470.50 75.27,473.47 73.71,478.28 68.66,478.28 67.09,473.47" fill="#cac634" stroke="#8a6a18" stroke-width="0.9"/>
<text x="77.88" y="477.9" font-size="9" letter-spacing="0.33" fill="#111" class="b">6:35am</text>
<polygon points="147.68,467.80 149.45,472.37 154.34,472.64 150.54,475.73 151.80,480.46 147.68,477.80 143.57,480.46 144.83,475.73 141.03,472.64 145.92,472.37" fill="#8a6a18"/><polygon points="147.68,470.50 151.77,473.47 150.21,478.28 145.16,478.28 143.59,473.47" fill="#cac634" stroke="#8a6a18" stroke-width="0.9"/>
<text x="154.38" y="477.9" font-size="9" letter-spacing="0.33" fill="#111" class="b">6:35am</text>
<polygon points="224.18,467.80 225.95,472.37 230.84,472.64 227.04,475.73 228.30,480.46 224.18,477.80 220.07,480.46 221.33,475.73 217.53,472.64 222.42,472.37" fill="#8a6a18"/><polygon points="224.18,470.50 228.27,473.47 226.71,478.28 221.66,478.28 220.09,473.47" fill="#cac634" stroke="#8a6a18" stroke-width="0.9"/>
<text x="230.88" y="477.9" font-size="9" letter-spacing="0.33" fill="#111" class="b">6:35am</text>
<polygon points="300.74,467.80 302.50,472.37 307.39,472.64 303.59,475.73 304.85,480.46 300.74,477.80 296.62,480.46 297.88,475.73 294.08,472.64 298.97,472.37" fill="#8a6a18"/><polygon points="300.74,470.50 304.83,473.47 303.26,478.28 298.21,478.28 296.65,473.47" fill="#cac634" stroke="#8a6a18" stroke-width="0.9"/>
<text x="307.44" y="477.9" font-size="9" letter-spacing="0.33" fill="#111" class="b">6:36am</text>
<polygon points="377.24,467.80 379.00,472.37 383.89,472.64 380.09,475.73 381.35,480.46 377.24,477.80 373.12,480.46 374.38,475.73 370.58,472.64 375.47,472.37" fill="#8a6a18"/><polygon points="377.24,470.50 381.33,473.47 379.76,478.28 374.71,478.28 373.15,473.47" fill="#cac634" stroke="#8a6a18" stroke-width="0.9"/>
<text x="383.94" y="477.9" font-size="9" letter-spacing="0.33" fill="#111" class="b">6:36am</text>
<polygon points="453.74,467.80 455.50,472.37 460.39,472.64 456.59,475.73 457.85,480.46 453.74,477.80 449.62,480.46 450.88,475.73 447.08,472.64 451.97,472.37" fill="#8a6a18"/><polygon points="453.74,470.50 457.83,473.47 456.26,478.28 451.21,478.28 449.65,473.47" fill="#cac634" stroke="#8a6a18" stroke-width="0.9"/>
<text x="460.44" y="477.9" font-size="9" letter-spacing="0.33" fill="#111" class="b">6:36am</text>
<polygon points="530.24,467.80 532.00,472.37 536.89,472.64 533.09,475.73 534.35,480.46 530.24,477.80 526.12,480.46 527.38,475.73 523.58,472.64 528.47,472.37" fill="#8a6a18"/><polygon points="530.24,470.50 534.33,473.47 532.76,478.28 527.71,478.28 526.15,473.47" fill="#cac634" stroke="#8a6a18" stroke-width="0.9"/>
<text x="536.94" y="477.9" font-size="9" letter-spacing="0.33" fill="#111" class="b">6:36am</text>
<polygon points="606.74,467.80 608.50,472.37 613.39,472.64 609.59,475.73 610.85,480.46 606.74,477.80 602.62,480.46 603.88,475.73 600.08,472.64 604.97,472.37" fill="#8a6a18"/><polygon points="606.74,470.50 610.83,473.47 609.26,478.28 604.21,478.28 602.65,473.47" fill="#cac634" stroke="#8a6a18" stroke-width="0.9"/>
<text x="613.44" y="477.9" font-size="9" letter-spacing="0.33" fill="#111" class="b">6:36am</text>
<polygon points="683.24,467.80 685.00,472.37 689.89,472.64 686.09,475.73 687.35,480.46 683.24,477.80 679.12,480.46 680.38,475.73 676.58,472.64 681.47,472.37" fill="#8a6a18"/><polygon points="683.24,470.50 687.33,473.47 685.76,478.28 680.71,478.28 679.15,473.47" fill="#cac634" stroke="#8a6a18" stroke-width="0.9"/>
<text x="689.94" y="477.9" font-size="9" letter-spacing="0.33" fill="#111" class="b">6:36am</text>
<polygon points="32.14,481.40 33.90,485.87 38.70,486.17 34.99,489.23 36.19,493.88 32.14,491.30 28.08,493.88 29.28,489.23 25.58,486.17 30.37,485.87" fill="#7a6418"/><polygon points="32.14,484.00 36.23,486.97 34.66,491.78 29.61,491.78 28.05,486.97" fill="#c27a5a" stroke="#7a6418" stroke-width="0.9"/>
<text x="39.34" y="492.2" font-size="9" letter-spacing="0.33" fill="#111" class="b">6:20pm</text>
<polygon points="108.64,481.40 110.40,485.87 115.20,486.17 111.49,489.23 112.69,493.88 108.64,491.30 104.58,493.88 105.78,489.23 102.08,486.17 106.87,485.87" fill="#7a6418"/><polygon points="108.64,484.00 112.73,486.97 111.16,491.78 106.11,491.78 104.55,486.97" fill="#c27a5a" stroke="#7a6418" stroke-width="0.9"/>
<text x="115.84" y="492.2" font-size="9" letter-spacing="0.33" fill="#111" class="b">6:20pm</text>
<polygon points="185.08,481.40 186.85,485.87 191.65,486.17 187.94,489.23 189.14,493.88 185.08,491.30 181.03,493.88 182.23,489.23 178.52,486.17 183.32,485.87" fill="#7a6418"/><polygon points="185.08,484.00 189.17,486.97 187.61,491.78 182.56,491.78 180.99,486.97" fill="#c27a5a" stroke="#7a6418" stroke-width="0.9"/>
<text x="192.28" y="492.2" font-size="9" letter-spacing="0.33" fill="#111" class="b">6:19pm</text>
<polygon points="261.58,481.40 263.35,485.87 268.15,486.17 264.44,489.23 265.64,493.88 261.58,491.30 257.53,493.88 258.73,489.23 255.02,486.17 259.82,485.87" fill="#7a6418"/><polygon points="261.58,484.00 265.67,486.97 264.11,491.78 259.06,491.78 257.49,486.97" fill="#c27a5a" stroke="#7a6418" stroke-width="0.9"/>
<text x="268.78" y="492.2" font-size="9" letter-spacing="0.33" fill="#111" class="b">6:19pm</text>
<polygon points="338.03,481.40 339.79,485.87 344.59,486.17 340.88,489.23 342.09,493.88 338.03,491.30 333.98,493.88 335.18,489.23 331.47,486.17 336.27,485.87" fill="#7a6418"/><polygon points="338.03,484.00 342.12,486.97 340.56,491.78 335.50,491.78 333.94,486.97" fill="#c27a5a" stroke="#7a6418" stroke-width="0.9"/>
<text x="345.23" y="492.2" font-size="9" letter-spacing="0.33" fill="#111" class="b">6:18pm</text>
<polygon points="414.53,481.40 416.29,485.87 421.09,486.17 417.38,489.23 418.59,493.88 414.53,491.30 410.48,493.88 411.68,489.23 407.97,486.17 412.77,485.87" fill="#7a6418"/><polygon points="414.53,484.00 418.62,486.97 417.06,491.78 412.00,491.78 410.44,486.97" fill="#c27a5a" stroke="#7a6418" stroke-width="0.9"/>
<text x="421.73" y="492.2" font-size="9" letter-spacing="0.33" fill="#111" class="b">6:18pm</text>
<polygon points="490.98,481.40 492.74,485.87 497.54,486.17 493.83,489.23 495.03,493.88 490.98,491.30 486.92,493.88 488.12,489.23 484.42,486.17 489.21,485.87" fill="#7a6418"/><polygon points="490.98,484.00 495.07,486.97 493.51,491.78 488.45,491.78 486.89,486.97" fill="#c27a5a" stroke="#7a6418" stroke-width="0.9"/>
<text x="498.18" y="492.2" font-size="9" letter-spacing="0.33" fill="#111" class="b">6:17pm</text>
<polygon points="567.48,481.40 569.24,485.87 574.04,486.17 570.33,489.23 571.53,493.88 567.48,491.30 563.42,493.88 564.62,489.23 560.92,486.17 565.71,485.87" fill="#7a6418"/><polygon points="567.48,484.00 571.57,486.97 570.01,491.78 564.95,491.78 563.39,486.97" fill="#c27a5a" stroke="#7a6418" stroke-width="0.9"/>
<text x="574.68" y="492.2" font-size="9" letter-spacing="0.33" fill="#111" class="b">6:17pm</text>
<polygon points="643.92,481.40 645.69,485.87 650.49,486.17 646.78,489.23 647.98,493.88 643.92,491.30 639.87,493.88 641.07,489.23 637.36,486.17 642.16,485.87" fill="#7a6418"/><polygon points="643.92,484.00 648.01,486.97 646.45,491.78 641.40,491.78 639.84,486.97" fill="#c27a5a" stroke="#7a6418" stroke-width="0.9"/>
<text x="651.12" y="492.2" font-size="9" letter-spacing="0.33" fill="#111" class="b">6:16pm</text>
<circle cx="67.36" cy="501.6" r="4.8" fill="#ffffcc" stroke="#888" stroke-width="0.8"/>
<text x="74.36" y="505.6" font-size="9" letter-spacing="0.33" fill="#111" class="b">5:23am</text>
<circle cx="105.72" cy="515.5" r="4.8" fill="#c8c4bc" stroke="#777" stroke-width="0.8"/>
<text x="112.72" y="519.6" font-size="9" letter-spacing="0.33" fill="#111" class="b">5:25pm</text>
<circle cx="146.41" cy="501.6" r="4.8" fill="#ffffcc" stroke="#888" stroke-width="0.8"/>
<text x="153.41" y="505.6" font-size="9" letter-spacing="0.33" fill="#111" class="b">6:11am</text>
<circle cx="184.34" cy="515.5" r="4.8" fill="#c8c4bc" stroke="#777" stroke-width="0.8"/>
<text x="191.34" y="519.6" font-size="9" letter-spacing="0.33" fill="#111" class="b">6:05pm</text>
<circle cx="225.46" cy="501.6" r="4.8" fill="#ffffcc" stroke="#888" stroke-width="0.8"/>
<text x="232.46" y="505.6" font-size="9" letter-spacing="0.33" fill="#111" class="b">6:59am</text>
<circle cx="263.07" cy="515.5" r="4.8" fill="#c8c4bc" stroke="#777" stroke-width="0.8"/>
<text x="270.07" y="519.6" font-size="9" letter-spacing="0.33" fill="#111" class="b">6:47pm</text>
<circle cx="304.56" cy="501.6" r="4.8" fill="#ffffcc" stroke="#888" stroke-width="0.8"/>
<text x="311.56" y="505.6" font-size="9" letter-spacing="0.33" fill="#111" class="b">7:48am</text>
<circle cx="341.91" cy="515.5" r="4.8" fill="#c8c4bc" stroke="#777" stroke-width="0.8"/>
<text x="348.91" y="519.6" font-size="9" letter-spacing="0.33" fill="#111" class="b">7:31pm</text>
<circle cx="383.67" cy="501.6" r="4.8" fill="#ffffcc" stroke="#888" stroke-width="0.8"/>
<text x="390.67" y="505.6" font-size="9" letter-spacing="0.33" fill="#111" class="b">8:37am</text>
<circle cx="420.85" cy="515.5" r="4.8" fill="#c8c4bc" stroke="#777" stroke-width="0.8"/>
<text x="427.85" y="519.6" font-size="9" letter-spacing="0.33" fill="#111" class="b">8:17pm</text>
<circle cx="462.77" cy="501.6" r="4.8" fill="#ffffcc" stroke="#888" stroke-width="0.8"/>
<text x="469.77" y="505.6" font-size="9" letter-spacing="0.33" fill="#111" class="b">9:26am</text>
<circle cx="499.90" cy="515.5" r="4.8" fill="#c8c4bc" stroke="#777" stroke-width="0.8"/>
<text x="506.90" y="519.6" font-size="9" letter-spacing="0.33" fill="#111" class="b">9:05pm</text>
<circle cx="541.87" cy="501.6" r="4.8" fill="#ffffcc" stroke="#888" stroke-width="0.8"/>
<text x="548.87" y="505.6" font-size="9" letter-spacing="0.33" fill="#111" class="b">10:15am</text>
<circle cx="579.06" cy="515.5" r="4.8" fill="#c8c4bc" stroke="#777" stroke-width="0.8"/>
<text x="586.06" y="519.6" font-size="9" letter-spacing="0.33" fill="#111" class="b">9:55pm</text>
<circle cx="620.92" cy="501.6" r="4.8" fill="#ffffcc" stroke="#888" stroke-width="0.8"/>
<text x="627.92" y="505.6" font-size="9" letter-spacing="0.33" fill="#111" class="b">11:03am</text>
<circle cx="658.27" cy="515.5" r="4.8" fill="#c8c4bc" stroke="#777" stroke-width="0.8"/>
<text x="665.27" y="519.6" font-size="9" letter-spacing="0.33" fill="#111" class="b">10:46pm</text>
<text x="143" y="532.6" font-size="9" letter-spacing="0.33" fill="#111" class="b">New Moon</text>
<line x1="191.1" y1="526.3" x2="191.1" y2="534.6" stroke="#222" stroke-width="1"/>
<text x="194.4" y="532.6" font-size="9" letter-spacing="0.33" fill="#111" class="b">8:18pm</text>
</svg></body></html>
